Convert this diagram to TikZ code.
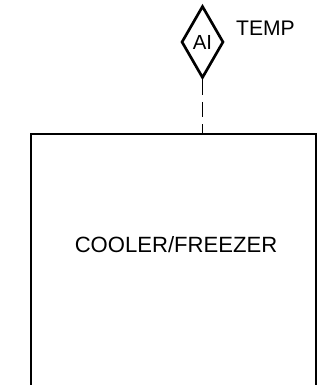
\documentclass[tikz,border=0pt]{standalone}
\usepackage{fontspec}
\setmainfont{Liberation Sans}
\usetikzlibrary{shapes.geometric}
\begin{document}
\begin{tikzpicture}[x=0.025cm,y=-0.025cm,
    outline/.style={line width=1.9pt},
    instrument/.style={diamond,draw,line width=1.9pt,inner sep=0pt,minimum width=1.05cm,minimum height=1.8cm,font=\fontsize{14.5}{17}\selectfont},
    signal/.style={line width=0.7pt,dash pattern=on 11pt off 5pt},
    label/.style={font=\fontsize{15}{18}\selectfont},
    title/.style={font=\fontsize{15.7}{19}\selectfont}]
  \useasboundingbox (0,0) rectangle (321,385);

  % Cooler, open at the bottom
  \coordinate (boxtop) at (202.5,134);
  \draw[outline] (31,385) -- (31,134) -- (boxtop) -- (316,134) -- (316,385);
  \node[title] (cooler) at (176,245) {COOLER/FREEZER};

  % Temperature indicator
  \node[instrument] (ai) at (202.5,42) {AI};
  \node[label] (temp) at (265.5,28) {TEMP};
  \draw[signal] (ai.south) -- (boxtop);
\end{tikzpicture}
\end{document}
